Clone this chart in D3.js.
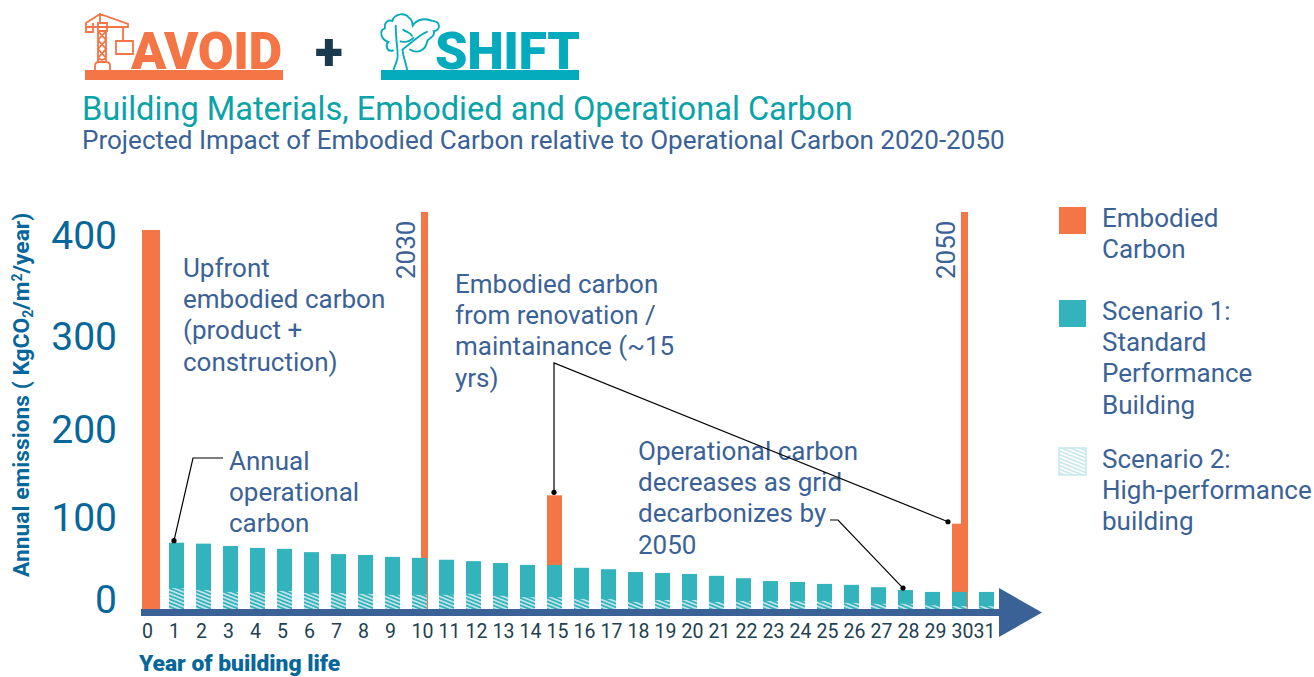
<!DOCTYPE html>
<html lang="en">
<head>
    <meta charset="utf-8">
    <style>
        html, body {
          margin: 0;
          background: #fff;
          overflow: hidden;
        }

        svg {
          display: block;
          font-family: Roboto, sans-serif;
        }

        .note {
          font-size: 26px;
          fill: #3b6296;
        }

        .leader {
          fill: none;
          stroke: #000;
          stroke-width: 1.2;
        }

        .axis path, .axis line {
          display: none;
        }
    </style>
</head>
<body>

    <svg width="1314" height="677"></svg>

<script src="https://d3js.org/d3.v7.min.js"></script>
<script>
var years = d3.range(0, 32)
var yTicks = [0, 100, 200, 300, 400]

// scenario 1, years 1 to 31
var operational = [70, 69, 66.5, 64.5, 63.5, 60, 58, 57, 55, 54, 52, 50.5, 48.5, 46.5, 46.5,
  43.5, 42, 39, 38, 37, 35, 32.5, 29.5, 28.5, 26.5, 25.5, 23, 20, 18, 18, 18]
// scenario 2, years 1 to 31
var highPerformance = [22, 20, 18, 18, 19, 17, 17, 16, 15, 15, 15, 16, 14, 12.5, 12.5,
  10.5, 10.5, 7.5, 9.5, 9.5, 7.5, 8.5, 8.5, 8.5, 8.5, 6.5, 5.5, 5.5, 4, 3, 3]

var embodiedYears = [0, 15, 30]
var embodiedValues = [400, 120, 90]

var markerYears = [10, 30]
var markerLabels = ['2030', '2050']
var markerValue = 419

var colors = {orange: '#f47545', teal: '#33b3bb', blue: '#3b6296', axis: '#07679a', shift: '#04abbd'}

var svg = d3.select('svg')

// step of 27px, 15px wide bars
var x = d3.scaleBand()
  .domain(years)
  .range([142, 142 + (32 - 12 / 27) * 27])
  .paddingInner(12 / 27)
  .paddingOuter(0)

var y = d3.scaleLinear().domain([0, 400]).range([609, 230])

// the printed labels do not sit evenly on the value scale
var yLabel = d3.scaleLinear().domain(yTicks).range([600.5, 518, 430.5, 337, 236.5])

var defs = svg.append('defs')

var hatch = defs.append('pattern')
  .attr('id', 'hatch')
  .attr('patternUnits', 'userSpaceOnUse')
  .attr('width', 3.4)
  .attr('height', 3.4)
  .attr('patternTransform', 'rotate(22)')
hatch.append('rect')
  .attr('width', 3.4)
  .attr('height', 1.6)
  .attr('fill', '#c6e7ec')

// ---------- logos and titles ----------

function crane (g) {
  g.append('path')
    .attr('fill', 'none')
    .attr('stroke', colors.orange)
    .attr('stroke-width', 1.8)
    .attr('d', 'M100 13V23M86 23L100 14L128 24V27H86ZM86 27V32H93V23M98 23H107V31H98Z' +
      'M98 31V62M106 31V62M98 31L106 40L98 49L106 58L98 62M106 31L98 40L106 49L98 58L106 62' +
      'M123 27V41M116 41H133V54H116ZM95 70V66Q95 62 99 62H106Q110 62 110 66V70')
}

function tree (g) {
  g.append('path')
    .attr('transform', 'translate(376,8) scale(0.34)')
    .attr('fill', 'none')
    .attr('stroke', colors.shift)
    .attr('stroke-width', 5.5)
    .attr('stroke-linecap', 'round')
    .attr('d', 'M50 125C30 130 28 108 36 100C14 92 8 66 26 60C24 40 38 34 48 38C56 14 86 14 96 28' +
      'C110 36 106 48 108 52C120 30 150 30 165 38C192 40 190 66 170 68C176 86 152 88 150 100' +
      'C146 124 122 136 100 122M58 52C58 100 68 140 62 152C58 165 52 180 52 180' +
      'M92 183C88 160 78 138 78 122C100 106 130 76 150 70M80 64C90 72 100 70 106 82' +
      'M72 98C86 102 100 98 110 88')
}

var logo = svg.append('g')
crane(logo)
tree(logo)

logo.append('rect').attr('x', 85).attr('y', 70).attr('width', 198).attr('height', 10).attr('fill', colors.orange)
logo.append('rect').attr('x', 381).attr('y', 70).attr('width', 198).attr('height', 10).attr('fill', colors.shift)

logo.append('text')
  .attr('x', 131).attr('y', 69)
  .attr('font-size', 52).attr('font-weight', 900)
  .attr('letter-spacing', -0.4)
  .attr('fill', colors.orange)
  .text('AVOID')

logo.append('text')
  .attr('x', 435).attr('y', 69)
  .attr('font-size', 52).attr('font-weight', 900)
  .attr('letter-spacing', -0.4)
  .attr('fill', colors.shift)
  .text('SHIFT')

logo.append('text')
  .attr('x', 329).attr('y', 69.5)
  .attr('text-anchor', 'middle')
  .attr('font-size', 52).attr('font-weight', 900)
  .attr('fill', '#1c3a4e')
  .text('+')

svg.append('text')
  .attr('x', 82).attr('y', 120)
  .attr('font-size', 32.6)
  .attr('fill', '#0aa3a8')
  .text('Building Materials, Embodied and Operational Carbon')

svg.append('text')
  .attr('x', 82).attr('y', 149)
  .attr('font-size', 26.05)
  .attr('fill', colors.blue)
  .text('Projected Impact of Embodied Carbon relative to Operational Carbon 2020-2050')

// ---------- bars ----------

svg.append('g').selectAll('rect')
  .data(markerYears)
  .enter().append('rect')
    .attr('x', function (d) { return x(d) + 9 })
    .attr('y', y(markerValue))
    .attr('width', 7)
    .attr('height', y(0) - y(markerValue))
    .attr('fill', colors.orange)

svg.append('g').selectAll('rect')
  .data(embodiedYears)
  .enter().append('rect')
    .attr('x', function (d) { return x(d) })
    .attr('y', function (d, i) { return y(embodiedValues[i]) })
    .attr('width', function (d) { return d === 0 ? x.bandwidth() + 3 : x.bandwidth() })
    .attr('height', function (d, i) { return y(0) - y(embodiedValues[i]) })
    .attr('fill', colors.orange)

svg.append('g').selectAll('rect')
  .data(operational)
  .enter().append('rect')
    .attr('x', function (d, i) { return x(i + 1) })
    .attr('y', function (d) { return y(d) })
    .attr('width', x.bandwidth())
    .attr('height', function (d) { return y(0) - y(d) })
    .attr('fill', colors.teal)

svg.append('g').selectAll('rect')
  .data(highPerformance)
  .enter().append('rect')
    .attr('x', function (d, i) { return x(i + 1) })
    .attr('y', function (d) { return y(d) })
    .attr('width', x.bandwidth())
    .attr('height', function (d) { return y(0) - y(d) })
    .attr('fill', 'url(#hatch)')

// ---------- axes ----------

svg.append('rect')
  .attr('x', 141).attr('y', 609)
  .attr('width', 860).attr('height', 7)
  .attr('fill', colors.blue)

svg.append('path')
  .attr('d', 'M999 588L1042 612.5L999 637Z')
  .attr('fill', colors.blue)

var xAxis = svg.append('g')
  .attr('class', 'axis')
  .attr('transform', 'translate(0,622)')
  .call(d3.axisBottom(x).tickSize(0).tickPadding(0))

xAxis.selectAll('text')
  .attr('font-family', 'Roboto, sans-serif')
  .attr('font-size', 19.5)
  .attr('fill', '#22404f')
  .attr('dx', function (d) {
    if (d === 31) return -2
    return d < 10 ? -2 : 3
  })
  .attr('dy', '0.83em')

var yAxis = svg.append('g')
  .attr('class', 'axis')
  .attr('transform', 'translate(117,0)')
  .call(d3.axisLeft(yLabel).tickValues(yTicks).tickSize(0).tickPadding(0))

yAxis.selectAll('text')
  .attr('font-family', 'Roboto, sans-serif')
  .attr('font-size', 39)
  .attr('fill', colors.axis)

var yTitle = svg.append('text')
  .attr('transform', 'translate(29,577) rotate(-90)')
  .attr('font-size', 22.8)
  .attr('font-weight', 700)
  .attr('fill', colors.axis)

yTitle.append('tspan').text('Annual emissions ( KgCO')
yTitle.append('tspan').attr('font-size', 14).attr('dy', 4).text('2')
yTitle.append('tspan').attr('dy', -4).text('/m')
yTitle.append('tspan').attr('font-size', 14).attr('dy', -7).text('2')
yTitle.append('tspan').attr('dy', 7).text('/year)')

svg.append('text')
  .attr('x', 139).attr('y', 671)
  .attr('font-size', 22.8)
  .attr('font-weight', 900)
  .attr('fill', colors.axis)
  .text('Year of building life')

// ---------- annotations ----------

function note (left, baseline, lines) {
  svg.append('text')
    .attr('class', 'note')
    .selectAll('tspan')
    .data(lines)
    .enter().append('tspan')
      .attr('x', left)
      .attr('y', function (d, i) { return baseline + i * 31.2 })
      .text(function (d) { return d })
}

note(183, 277, ['Upfront', 'embodied carbon', '(product +', 'construction)'])
note(229, 469.5, ['Annual', 'operational', 'carbon'])
note(455, 293, ['Embodied carbon', 'from renovation /', 'maintainance (~15', 'yrs)'])
note(638, 460, ['Operational carbon', 'decreases as grid', 'decarbonizes by', '2050'])

svg.append('g').selectAll('text')
  .data(markerLabels)
  .enter().append('text')
    .attr('class', 'note')
    .attr('transform', function (d, i) { return 'translate(' + (x(markerYears[i]) + 3) + ',279) rotate(-90)' })
    .text(function (d) { return d })

var dots = [
  [x(1) + 5, y(operational[0]) - 2],
  [x(15) + 7, y(embodiedValues[1]) - 3],
  [x(30) - 4, y(embodiedValues[2]) - 2],
  [x(28) + 5, y(operational[27]) - 2]
]

var leaders = svg.append('g')

function leader (points) {
  leaders.append('path').attr('class', 'leader').attr('d', d3.line()(points))
}

leader([dots[0], [193, 458], [223, 458]])
leader([dots[1], [dots[1][0], 363], dots[2]])
leader([[830, 520], [838, 520], dots[3]])

leaders.selectAll('circle')
  .data(dots)
  .enter().append('circle')
    .attr('cx', function (d) { return d[0] })
    .attr('cy', function (d) { return d[1] })
    .attr('r', 2.6)
    .attr('fill', '#000')

// ---------- legend ----------

var legendRows = [
  {swatch: colors.orange, top: 207, baseline: 227, lines: ['Embodied', 'Carbon']},
  {swatch: colors.teal, top: 300, baseline: 320, lines: ['Scenario 1:', 'Standard', 'Performance', 'Building']},
  {swatch: 'url(#hatch)', top: 448, baseline: 468, lines: ['Scenario 2:', 'High-performance', 'building']}
]

legendRows.forEach(function (row) {
  var isHatch = row.swatch === 'url(#hatch)'
  svg.append('rect')
    .attr('x', 1059).attr('y', row.top)
    .attr('width', 27).attr('height', 27)
    .attr('fill', row.swatch)
    .attr('stroke', isHatch ? '#c6e7ec' : 'none')
    .attr('stroke-width', 1.5)
  note(1102, row.baseline, row.lines)
})
</script>

</body>
</html>
